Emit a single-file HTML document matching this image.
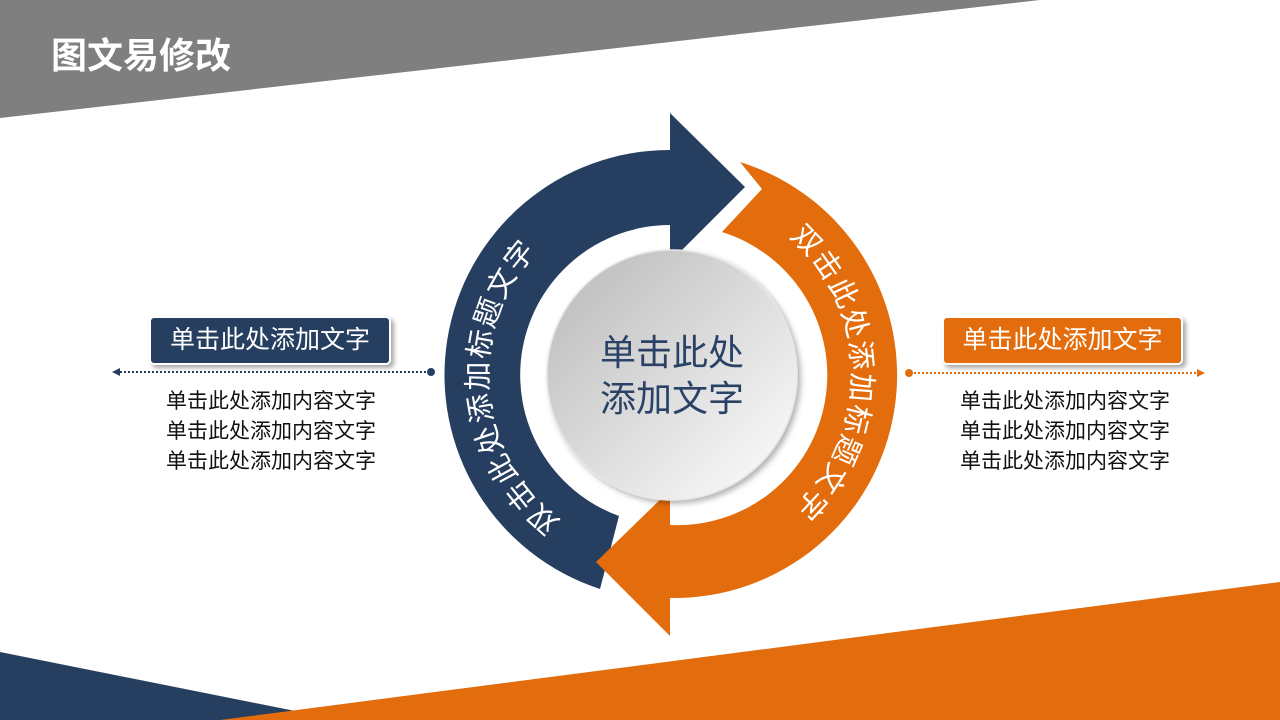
<!DOCTYPE html>
<html><head><meta charset="utf-8"><style>
html,body{margin:0;padding:0;}
body{width:1280px;height:720px;position:relative;overflow:hidden;background:#fff;font-family:"Liberation Sans","Noto Sans CJK SC",sans-serif;}
.t{position:absolute;color:#fff;}
.box{position:absolute;height:45px;line-height:45px;text-align:center;color:#fff;font-size:25px;border-radius:5px;border:2px solid #fff;box-shadow:3px 3px 5px rgba(0,0,0,0.35);}
.p{position:absolute;width:260px;text-align:center;font-size:21px;line-height:30px;color:#111;}
</style></head><body>
<svg width="1280" height="720" style="position:absolute;left:0;top:0">
<defs>
<linearGradient id="cg" x1="0" y1="0" x2="1" y2="1"><stop offset="0" stop-color="#b8b8b8"/><stop offset="1" stop-color="#ffffff"/></linearGradient>
<filter id="sh" x="-20%" y="-20%" width="140%" height="140%"><feDropShadow dx="3" dy="3" stdDeviation="3" flood-color="#000" flood-opacity="0.3"/></filter>
<path id="lp" d="M 555.6 526.8 A 190 190 0 0 1 670 185" fill="none"/>
<path id="rp" d="M 794.7 231.6 A 190 190 0 0 1 735 553.5" fill="none"/>
</defs>
<polygon points="0,0 1040,0 0,118" fill="#7f7f7f"/>
<polygon points="0,652 340,720 0,720" fill="#263f60"/>
<polygon points="220,720 1280,582 1280,720" fill="#e36c0c"/>
<path d="M 600 589 A 225 225 0 0 1 670 150 L 670 113 L 745 187 L 670 262 L 670 225 A 150 150 0 0 0 619 516 Z" fill="#263f60"/>
<path d="M 740 162 A 223 223 0 0 1 670 598 L 670 636 L 596 562 L 670 490 L 670 525 A 150 150 0 0 0 722 232 L 762 189 Z" fill="#e36c0c"/>
<circle cx="672" cy="375" r="125" fill="url(#cg)" stroke="#e6e6e6" stroke-width="1.5" filter="url(#sh)"/>
<text font-size="29" letter-spacing="3" fill="#fff" font-family="Liberation Sans, Noto Sans CJK SC, sans-serif" dominant-baseline="middle"><textPath href="#lp">双击此处添加标题文字</textPath></text>
<text font-size="29" letter-spacing="3" fill="#fff" font-family="Liberation Sans, Noto Sans CJK SC, sans-serif" dominant-baseline="middle"><textPath href="#rp">双击此处添加标题文字</textPath></text>
<line x1="120" y1="372" x2="428" y2="372" stroke="#263f60" stroke-width="2" stroke-dasharray="2,2"/>
<polygon points="112,372 120,368 120,376" fill="#263f60"/>
<circle cx="431" cy="372" r="4" fill="#263f60"/>
<line x1="910" y1="373" x2="1197" y2="373" stroke="#e36c0c" stroke-width="2" stroke-dasharray="2,2"/>
<polygon points="1205,373 1197,369 1197,377" fill="#e36c0c"/>
<circle cx="909" cy="373" r="4" fill="#e36c0c"/>
</svg>
<div class="t" style="left:51px;top:27px;font-size:36px;font-weight:bold;">图文易修改</div>
<div style="position:absolute;left:572px;top:330px;width:200px;text-align:center;color:#2a4266;font-size:36px;line-height:46px;">单击此处<br>添加文字</div>
<div class="box" style="left:149px;top:316px;width:238px;background:#263f60;">单击此处添加文字</div>
<div class="box" style="left:942px;top:316px;width:237px;background:#e36c0c;">单击此处添加文字</div>
<div class="p" style="left:141px;top:387px;">单击此处添加内容文字<br>单击此处添加内容文字<br>单击此处添加内容文字</div>
<div class="p" style="left:935px;top:387px;">单击此处添加内容文字<br>单击此处添加内容文字<br>单击此处添加内容文字</div>
</body></html>
